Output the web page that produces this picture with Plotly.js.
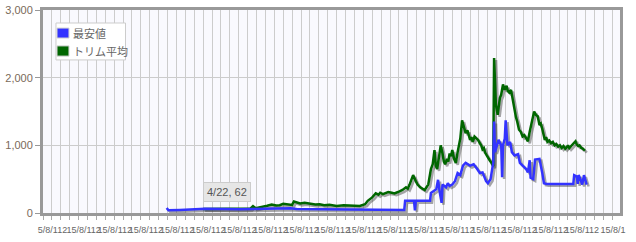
<!DOCTYPE html>
<html><head><meta charset="utf-8">
<script src="https://cdn.plot.ly/plotly-3.0.1.min.js"></script>
<style>body{margin:0;background:#fff}#c{width:636px;height:242px}</style>
</head><body><div id="c"></div>
<script>
// x in grid (week) units, values in yen
const minX = [13.9,14.1,15.4,17.6,18.2,22.1,26.3,27.8,28.5,31.1,33.4,36.0,39.0,40.6,40.7,41.7,41.8,41.9,43.5,43.6,44.2,44.4,44.6,44.8,44.9,45.3,45.5,45.7,46.0,46.3,46.6,46.9,47.2,47.5,48.0,48.4,48.8,49.1,49.4,49.8,50.0,50.3,50.6,50.7,50.8,51.0,51.2,51.5,51.6,51.7,51.9,52.0,52.2,52.5,52.7,53.0,53.4,53.6,53.9,54.3,54.5,54.7,54.8,55.1,55.3,55.8,56.1,56.3,56.6,59.6,59.7,60.0,60.1,60.2,60.4,60.6,60.8,61.0,61.1];
const minY = [75,40,45,55,62,55,65,70,60,55,50,55,45,45,180,180,40,180,180,295,350,490,300,150,420,380,440,400,420,470,590,560,700,740,700,720,650,590,600,470,440,500,740,1350,900,1000,1080,1000,530,1000,1100,1370,1000,1050,900,850,870,740,700,650,600,780,520,500,790,800,600,440,430,430,560,540,430,560,500,420,560,430,420];
const avgX = [18.0,21.0,23.3,23.6,23.9,25.2,25.7,26.2,26.6,27.0,27.4,28.0,28.2,28.5,28.9,29.4,30.0,30.6,31.1,31.6,32.2,33.0,33.8,34.5,35.1,35.6,36.2,36.5,37.0,37.4,37.7,37.9,38.2,38.4,38.8,39.2,39.5,39.9,40.2,40.4,40.8,41.0,41.2,41.4,41.6,41.9,42.1,42.4,42.7,42.9,43.1,43.3,43.6,43.8,44.0,44.15,44.3,44.5,44.7,44.9,45.05,45.2,45.4,45.55,45.7,45.85,46.0,46.2,46.4,46.6,46.75,46.9,47.1,47.3,47.5,47.7,47.85,48.0,48.15,48.3,48.5,48.7,48.9,49.1,49.25,49.4,49.55,49.7,49.85,50.0,50.2,50.4,50.6,50.7,50.9,51.1,51.2,51.35,51.5,51.7,51.9,52.1,52.25,52.4,52.6,52.8,53.0,53.15,53.3,53.5,53.7,53.9,54.1,54.3,54.5,54.7,54.9,55.05,55.2,55.4,55.6,55.8,55.95,56.1,56.25,56.4,56.55,56.7,56.9,57.1,57.3,57.5,57.7,57.9,58.1,58.3,58.5,58.7,58.85,59.0,59.15,59.3,59.5,59.7,59.85,60.0,60.15,60.3,60.5,60.7,60.9,61.1];
const avgY = [60,62,65,100,70,108,125,110,115,135,130,120,170,160,140,150,135,125,130,115,120,105,115,110,100,105,130,180,230,290,270,300,280,290,310,300,290,310,330,340,380,360,420,480,560,470,420,380,360,340,380,420,650,720,930,700,650,850,1000,880,760,720,800,760,880,840,930,800,740,900,1000,1100,1370,1250,1180,1220,1150,1080,1120,1050,1130,1100,1080,1030,1000,940,960,890,850,820,780,740,690,2290,1600,1450,1600,1700,1750,1900,1820,1880,1800,1780,1820,1650,1480,1420,1350,1230,1200,1130,1150,1100,1060,1200,1330,1420,1500,1450,1430,1300,1320,1250,1180,1080,1120,1050,1070,1030,1050,1000,1020,980,1000,960,990,950,970,1000,960,980,1000,1040,1060,1010,990,1000,960,950,920];
const seriesNames = ["最安値","トリム平均"];
const seriesColors = ["#3333ff","#006600"];
const yTicks = [0,1000,2000,3000];
const xLabelPos = [1.07,4.57,8.07,11.57,15.07,18.57,22.07,25.57,29.07,32.57,36.07,39.57,43.07,46.57,50.07,53.57,57.07,60.57,64.07];
const xLabels = ["5/8/112","15/8/112","15/8/112","15/8/112","15/8/112","15/8/112","15/8/112","15/8/112","15/8/112","15/8/112","15/8/112","15/8/112","15/8/112","15/8/112","15/8/112","15/8/112","15/8/112","15/8/112","15/8/1"];
const tipLabel = "4/22, 62";
const tipX = 20.7, tipY = 310;

const XR = [0, 64.85];
const shadow = (xs, ys) => ({x: xs.map(v => v + 0.22), y: ys.map(v => v - 28)});
const sMin = shadow(minX, minY), sAvg = shadow(avgX, avgY);
const traces = [
  {x: sAvg.x, y: sAvg.y, mode:'lines', line:{color:'rgba(60,60,60,0.45)', width:2.5}, showlegend:false, hoverinfo:'skip'},
  {x: sMin.x, y: sMin.y, mode:'lines', line:{color:'rgba(60,60,60,0.45)', width:2.5}, showlegend:false, hoverinfo:'skip'},
  {x: avgX, y: avgY, mode:'lines', line:{color:seriesColors[1], width:2.5}, showlegend:false},
  {x: minX, y: minY, mode:'lines', line:{color:seriesColors[0], width:2.5}, showlegend:false},
  {x:[null], y:[null], xaxis:'x2', showlegend:false, hoverinfo:'skip'}
];
// manual legend (paper coords)
const lgShapes = [
  {type:'rect', xref:'paper', yref:'paper', x0:0.0225, x1:0.143, y0:0.754, y1:0.936, fillcolor:'#ffffff', line:{color:'#cccccc', width:1}, layer:'above'},
  {type:'rect', xref:'paper', yref:'paper', x0:0.0243, x1:0.045, y0:0.862, y1:0.911, fillcolor:seriesColors[0], line:{color:'#d0d0d0', width:1}, layer:'above'},
  {type:'rect', xref:'paper', yref:'paper', x0:0.0243, x1:0.045, y0:0.773, y1:0.823, fillcolor:seriesColors[1], line:{color:'#d0d0d0', width:1}, layer:'above'}
];
const lgAnn = seriesNames.map((n, i) => ({xref:'paper', yref:'paper', x:0.0485, y:[0.886,0.798][i], xanchor:'left', yanchor:'middle',
  text:n, showarrow:false, font:{family:'Noto Sans CJK JP, sans-serif', size:11, color:'#666'}}));
const layout = {
  width:636, height:242,
  margin:{l:43, r:16, t:10, b:29},
  paper_bgcolor:'#ffffff', plot_bgcolor:'#f9f9fe',
  font:{family:'Liberation Sans, Arial, sans-serif', size:11, color:'#666'},
  showlegend:false,
  xaxis:{range:XR, tick0:0, dtick:1, showgrid:true, gridcolor:'#cccccc', gridwidth:1,
    showticklabels:false, ticks:'outside', ticklen:4, tickcolor:'#aaaaaa',
    showline:true, linecolor:'#999999', linewidth:3, mirror:true, zeroline:false, fixedrange:true},
  xaxis2:{range:XR, overlaying:'x', anchor:'y', side:'bottom', showgrid:false, zeroline:false,
    tickmode:'array', tickvals:xLabelPos, ticktext:xLabels, ticks:'', ticklen:0, tickangle:0, automargin:false,
    ticklabelstandoff:10,
    tickfont:{size:9, color:'#666', family:'Liberation Sans Narrow, Liberation Sans, Arial, sans-serif'}, showline:false},
  yaxis:{range:[0,3000], tickmode:'array', tickvals:yTicks, tickformat:',', showgrid:true, gridcolor:'#cccccc',
    ticks:'outside', ticklen:5, tickcolor:'#999999', tickfont:{size:11, color:'#7a6a5a'},
    showline:true, linecolor:'#999999', linewidth:3, mirror:true, zeroline:false, fixedrange:true},
  shapes: lgShapes,
  annotations:[{x:tipX, y:tipY, xref:'x', yref:'y', text:tipLabel, showarrow:false,
    bgcolor:'#e6e6e6', bordercolor:'#cccccc', borderwidth:1, borderpad:3,
    font:{size:11, color:'#555', family:'Liberation Sans, Arial, sans-serif'}}].concat(lgAnn)
};
Plotly.newPlot('c', traces, layout, {displayModeBar:false, staticPlot:true});
</script></body></html>
